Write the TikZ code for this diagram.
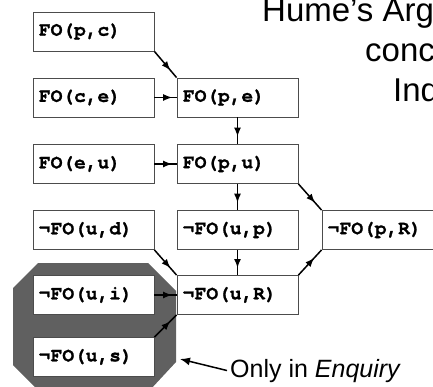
\documentclass[tikz,border=0pt]{standalone}
\usepackage{fontspec}
\setmainfont{Liberation Sans}
\newfontfamily\boxfont{texgyrecursor}[Extension=.otf, UprightFont=*-regular, BoldFont=*-bold, BoldFeatures={FakeBold=1.2}]
\usetikzlibrary{arrows.meta,decorations.markings}
\definecolor{octgray}{RGB}{96,96,96}
\begin{document}
\begin{tikzpicture}[x=1pt,y=-1pt,
  fobox/.style={draw=black!70, line width=0.9pt, fill=white, minimum width=121pt,
    minimum height=39pt, text width=109pt, inner xsep=6pt, inner ysep=0pt, align=left,
    font=\boxfont\bfseries\fontsize{19.5}{19.5}\selectfont, anchor=center},
  conn/.style={line width=1.5pt, postaction=decorate, decoration={markings,
    mark=at position #1 with {\arrow{Latex[length=9pt,width=7pt]}}}},
  conn/.default=0.72,
  titletext/.style={anchor=base west, inner sep=0pt, font=\fontsize{33}{33}\selectfont}]
\useasboundingbox (0,0) rectangle (433,387);
\clip (0,0) rectangle (433,387);
% grey octagon
\fill[octgray] (13,288) -- (38,263) -- (148,263) -- (176,291) -- (176,362) -- (150,390) -- (38,390) -- (13,365) -- cycle;
% boxes
\node[fobox] (pc) at (93.5,31.5) {FO(p,c)};
\node[fobox] (ce) at (93.5,97.5) {FO(c,e)};
\node[fobox] (pe) at (237.5,97.5) {FO(p,e)};
\node[fobox] (eu) at (93.5,164) {FO(e,u)};
\node[fobox] (pu) at (237.5,164) {FO(p,u)};
\node[fobox] (ud) at (93.5,230) {¬FO(u,d)};
\node[fobox] (up) at (237.5,230) {¬FO(u,p)};
\node[fobox] (pR) at (382.5,230) {¬FO(p,R)};
\node[fobox] (ui) at (93.5,295) {¬FO(u,i)};
\node[fobox] (uR) at (237.5,295) {¬FO(u,R)};
\node[fobox] (us) at (93.5,357) {¬FO(u,s)};
% connectors
\draw[conn] (pc.south east) -- (pe.north west);
\draw[conn=0.8] (ce) -- (pe);
\draw[conn] (pe) -- (pu);
\draw[conn=0.8] (eu) -- (pu);
\draw[conn] (pu) -- (up);
\draw[conn] (pu.south east) -- (pR.north west);
\draw[conn] (ud.south east) -- (uR.north west);
\draw[conn] (up) -- (uR);
\draw[conn=0.68] (uR.north east) -- (pR.south west);
\draw[conn=0.8] (ui) -- (uR);
\draw[conn] (us.north east) -- (uR.south west);
% label
\node[anchor=base west, inner sep=3pt, font=\fontsize{25}{25}\selectfont] (enq) at (227,377) {Only in \textit{Enquiry}};
\coordinate (octR) at (180,359);
\draw[line width=1.5pt, -{Latex[length=10pt,width=8pt]}] (enq.west) -- (octR);
% title
\node[titletext] (t1) at (262,22) {Hume’s Argument};
\node[titletext] (t2) at (365,62) {concerning};
\node[titletext] (t3) at (393,102) {Induction};
\end{tikzpicture}
\end{document}
